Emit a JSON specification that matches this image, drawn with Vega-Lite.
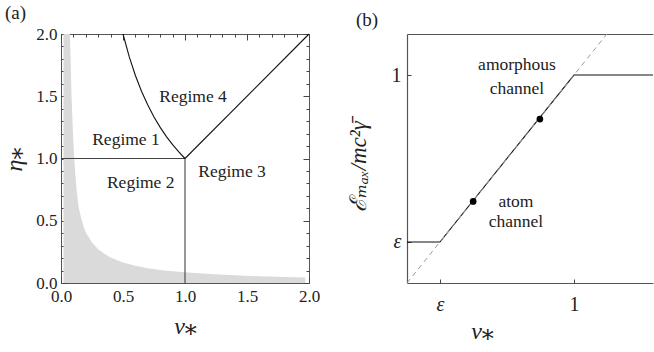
{
  "$schema": "https://vega.github.io/schema/vega-lite/v6.json",
  "padding": {"left": 1, "top": 3, "right": 0, "bottom": 0},
  "background": "white",
  "spacing": 98,
  "bounds": "flush",
  "config": {
    "view": {"stroke": null},
    "font": "Times New Roman, Liberation Serif, DejaVu Serif, serif",
    "axis": {"grid": false, "labelFont": "Times New Roman, Liberation Serif, DejaVu Serif, serif", "titleFont": "Times New Roman, Liberation Serif, DejaVu Serif, serif", "titleFontWeight": "normal", "labelColor": "#222", "titleColor": "#222", "tickColor": "#444", "tickWidth": 1, "domainColor": "#555"}
  },
  "datasets": {
    "shade": [
      {"nu": 0.02, "eta": 2.0}, {"nu": 0.072, "eta": 2.0}, {"nu": 0.085, "eta": 1.5}, {"nu": 0.1, "eta": 1.12},
      {"nu": 0.115, "eta": 0.88}, {"nu": 0.126, "eta": 0.75}, {"nu": 0.14, "eta": 0.62}, {"nu": 0.153, "eta": 0.56},
      {"nu": 0.18, "eta": 0.46}, {"nu": 0.2, "eta": 0.405}, {"nu": 0.25, "eta": 0.325}, {"nu": 0.3, "eta": 0.272},
      {"nu": 0.35, "eta": 0.234}, {"nu": 0.4, "eta": 0.205}, {"nu": 0.5, "eta": 0.165}, {"nu": 0.6, "eta": 0.138},
      {"nu": 0.7, "eta": 0.119}, {"nu": 0.8, "eta": 0.105}, {"nu": 0.9, "eta": 0.095}, {"nu": 1.0, "eta": 0.087},
      {"nu": 1.2, "eta": 0.072}, {"nu": 1.4, "eta": 0.062}, {"nu": 1.6, "eta": 0.054}, {"nu": 1.8, "eta": 0.048},
      {"nu": 1.97, "eta": 0.044}
    ],
    "hv": [
      {"seg": "h", "i": 0, "nu": 0.0, "eta": 1.0}, {"seg": "h", "i": 1, "nu": 1.0, "eta": 1.0},
      {"seg": "v", "i": 0, "nu": 1.0, "eta": 0.0}, {"seg": "v", "i": 1, "nu": 1.0, "eta": 1.0}
    ],
    "curves": [
      {"seg": "d", "i": 0, "nu": 1.0, "eta": 1.0}, {"seg": "d", "i": 1, "nu": 2.0, "eta": 2.0},
      {"seg": "c", "i": 0, "nu": 0.5, "eta": 2.0}, {"seg": "c", "i": 1, "nu": 0.55, "eta": 1.818},
      {"seg": "c", "i": 2, "nu": 0.6, "eta": 1.667}, {"seg": "c", "i": 3, "nu": 0.65, "eta": 1.538},
      {"seg": "c", "i": 4, "nu": 0.7, "eta": 1.429}, {"seg": "c", "i": 5, "nu": 0.75, "eta": 1.333},
      {"seg": "c", "i": 6, "nu": 0.8, "eta": 1.25}, {"seg": "c", "i": 7, "nu": 0.85, "eta": 1.176},
      {"seg": "c", "i": 8, "nu": 0.9, "eta": 1.111}, {"seg": "c", "i": 9, "nu": 0.95, "eta": 1.053},
      {"seg": "c", "i": 10, "nu": 1.0, "eta": 1.0}
    ],
    "regimes": [
      {"nu": 0.524, "eta": 1.146, "label": "Regime 1"},
      {"nu": 0.643, "eta": 0.803, "label": "Regime 2"},
      {"nu": 1.379, "eta": 0.892, "label": "Regime 3"},
      {"nu": 1.065, "eta": 1.49, "label": "Regime 4"}
    ],
    "emax": [
      {"i": 0, "nu": 0.0568, "e": 0.1}, {"i": 1, "nu": 0.1, "e": 0.1},
      {"i": 2, "nu": 1.0, "e": 1.0}, {"i": 3, "nu": 3.89, "e": 1.0}
    ],
    "diag": [
      {"nu": 0.0568, "e": 0.0568}, {"nu": 1.762, "e": 1.762}
    ],
    "dots": [
      {"nu": 0.177, "e": 0.175}, {"nu": 0.557, "e": 0.545}
    ],
    "channels": [
      {"nu": 0.376, "e": 1.148, "label": "amorphous"},
      {"nu": 0.376, "e": 0.824, "label": "channel"},
      {"nu": 0.369, "e": 0.174, "label": "atom"},
      {"nu": 0.369, "e": 0.132, "label": "channel"}
    ]
  },
  "hconcat": [
    {
      "width": 248,
      "height": 249,
      "view": {"stroke": "#555", "strokeWidth": 1},
      "title": {"text": "(a)", "anchor": "start", "frame": "group", "dx": -56, "offset": 2, "fontSize": 19, "font": "Times New Roman, Liberation Serif, DejaVu Serif, serif", "fontWeight": "normal", "color": "#222"},
      "layer": [
        {
          "data": {"name": "shade"},
          "mark": {"type": "area", "color": "#dadada", "clip": true},
          "encoding": {
            "x": {"field": "nu", "type": "quantitative", "scale": {"domain": [0, 2], "nice": false, "zero": false},
              "axis": {"orient": "bottom", "values": [0, 0.5, 1, 1.5, 2], "format": ".1f", "offset": -6, "tickSize": 6,
                "labelFlush": false, "labelOverlap": false, "domain": false,
                "labelFont": "Times New Roman, Liberation Serif, DejaVu Serif, serif", "labelFontSize": 17, "labelPadding": 5,
                "title": "ν⁎", "titleFont": "Times New Roman, Liberation Serif, DejaVu Serif, serif", "titleFontStyle": "italic", "titleFontSize": 24, "titleX": 124, "titleY": 49, "titleBaseline": "middle", "titleAlign": "center"}},
            "y": {"field": "eta", "type": "quantitative", "scale": {"domain": [0, 2], "nice": false},
              "axis": {"orient": "left", "values": [0, 0.5, 1, 1.5, 2], "format": ".1f", "offset": -6, "tickSize": 6,
                "labelFlush": false, "labelOverlap": false, "domain": false,
                "labelFont": "Times New Roman, Liberation Serif, DejaVu Serif, serif", "labelFontSize": 17, "labelPadding": 4,
                "title": "η⁎", "titleFont": "Times New Roman, Liberation Serif, DejaVu Serif, serif", "titleFontStyle": "italic", "titleFontSize": 24, "titleX": -53, "titleY": 125, "titleAngle": -90, "titleBaseline": "middle", "titleAlign": "center"}}
          }
        },
        {
          "data": {"name": "hv"},
          "mark": {"type": "line", "strokeWidth": 1.1, "color": "#444"},
          "encoding": {
            "x": {"field": "nu", "type": "quantitative",
              "axis": {"orient": "top", "values": [0, 0.5, 1, 1.5, 2], "offset": -6, "tickSize": 6, "labels": false, "domain": false, "title": null}},
            "y": {"field": "eta", "type": "quantitative",
              "axis": {"orient": "right", "values": [0, 0.5, 1, 1.5, 2], "offset": -6, "tickSize": 6, "labels": false, "domain": false, "title": null}},
            "detail": {"field": "seg"},
            "order": {"field": "i", "type": "quantitative"}
          }
        },
        {
          "data": {"name": "curves"},
          "mark": {"type": "line", "strokeWidth": 1.1, "color": "#111"},
          "encoding": {
            "x": {"field": "nu", "type": "quantitative",
              "axis": {"orient": "bottom", "values": [0.1,0.2,0.3,0.4,0.6,0.7,0.8,0.9,1.1,1.2,1.3,1.4,1.6,1.7,1.8,1.9], "offset": -3, "tickSize": 3, "labels": false, "domain": false, "title": null}},
            "y": {"field": "eta", "type": "quantitative",
              "axis": {"orient": "left", "values": [0.1,0.2,0.3,0.4,0.6,0.7,0.8,0.9,1.1,1.2,1.3,1.4,1.6,1.7,1.8,1.9], "offset": -3, "tickSize": 3, "labels": false, "domain": false, "title": null}},
            "detail": {"field": "seg"},
            "order": {"field": "i", "type": "quantitative"}
          }
        },
        {
          "data": {"name": "regimes"},
          "mark": {"type": "text", "font": "Times New Roman, Liberation Serif, DejaVu Serif, serif", "fontSize": 17.5, "color": "#222", "align": "center", "baseline": "middle"},
          "encoding": {
            "x": {"field": "nu", "type": "quantitative",
              "axis": {"orient": "top", "values": [0.1,0.2,0.3,0.4,0.6,0.7,0.8,0.9,1.1,1.2,1.3,1.4,1.6,1.7,1.8,1.9], "offset": -3, "tickSize": 3, "labels": false, "domain": false, "title": null}},
            "y": {"field": "eta", "type": "quantitative",
              "axis": {"orient": "right", "values": [0.1,0.2,0.3,0.4,0.6,0.7,0.8,0.9,1.1,1.2,1.3,1.4,1.6,1.7,1.8,1.9], "offset": -3, "tickSize": 3, "labels": false, "domain": false, "title": null}},
            "text": {"field": "label"}
          }
        }
      ],
      "resolve": {"axis": {"x": "independent", "y": "independent"}}
    },
    {
      "width": 246,
      "height": 249,
      "title": {"text": "(b)", "anchor": "start", "frame": "group", "dx": -51, "offset": 2, "fontSize": 19, "font": "Times New Roman, Liberation Serif, DejaVu Serif, serif", "fontWeight": "normal", "color": "#222"},
      "layer": [
        {
          "data": {"name": "emax"},
          "mark": {"type": "line", "color": "#111", "strokeWidth": 1.1},
          "encoding": {
            "x": {"field": "nu", "type": "quantitative", "scale": {"type": "log", "domain": [0.0568, 3.89], "nice": false},
              "axis": {"orient": "bottom", "values": [0.1, 1], "labelExpr": "datum.value < 0.5 ? 'ε' : '1'",
                "labelFontStyle": {"condition": {"test": "datum.value < 0.5", "value": "italic"}, "value": "normal"},
                "labelFont": "Times New Roman, Liberation Serif, DejaVu Serif, serif",
                "labelFontSize": 20, "labelPadding": 11, "labelFlush": false, "ticks": false, "domain": true, "domainWidth": 1.2,
                "title": "ν⁎", "titleFont": "Times New Roman, Liberation Serif, DejaVu Serif, serif", "titleFontStyle": "italic", "titleFontSize": 24, "titleX": 75, "titleY": 48, "titleBaseline": "middle", "titleAlign": "center"}},
            "y": {"field": "e", "type": "quantitative", "scale": {"type": "log", "domain": [0.0568, 1.762], "nice": false},
              "axis": {"orient": "left", "values": [0.1, 1], "labelExpr": "datum.value < 0.5 ? 'ε' : '1'",
                "labelFontStyle": {"condition": {"test": "datum.value < 0.5", "value": "italic"}, "value": "normal"},
                "labelFont": "Times New Roman, Liberation Serif, DejaVu Serif, serif",
                "labelFontSize": 20, "labelPadding": 6, "labelFlush": false, "ticks": false, "domain": true, "domainWidth": 1.2,
                "title": "ℰₘₐₓ/mc²γ̄", "titleFont": "Times New Roman, Liberation Serif, DejaVu Serif, serif", "titleFontStyle": "italic", "titleFontSize": 23, "titleX": -49, "titleY": 132, "titleAngle": -90, "titleBaseline": "middle", "titleAlign": "center"}},
            "order": {"field": "i", "type": "quantitative"}
          }
        },
        {
          "data": {"name": "diag"},
          "mark": {"type": "line", "color": "#999", "strokeWidth": 1, "strokeDash": [5, 4]},
          "encoding": {
            "x": {"field": "nu", "type": "quantitative",
              "axis": {"orient": "top", "values": [], "labels": false, "ticks": false, "domain": true, "domainWidth": 1.2, "title": null}},
            "y": {"field": "e", "type": "quantitative", "axis": null}
          }
        },
        {
          "data": {"name": "dots"},
          "mark": {"type": "point", "filled": true, "color": "#000", "size": 45, "opacity": 1},
          "encoding": {
            "x": {"field": "nu", "type": "quantitative",
              "axis": {"orient": "bottom", "values": [0.1, 1], "offset": -4, "tickSize": 4, "labels": false, "domain": false, "title": null}},
            "y": {"field": "e", "type": "quantitative",
              "axis": {"orient": "left", "values": [0.1, 1], "offset": -4, "tickSize": 4, "labels": false, "domain": false, "title": null}}
          }
        },
        {
          "data": {"name": "channels"},
          "mark": {"type": "text", "font": "Times New Roman, Liberation Serif, DejaVu Serif, serif", "fontSize": 17.5, "color": "#222", "align": "center", "baseline": "middle"},
          "encoding": {
            "x": {"field": "nu", "type": "quantitative", "axis": null},
            "y": {"field": "e", "type": "quantitative", "axis": null},
            "text": {"field": "label"}
          }
        }
      ],
      "resolve": {"axis": {"x": "independent", "y": "independent"}}
    }
  ]
}
